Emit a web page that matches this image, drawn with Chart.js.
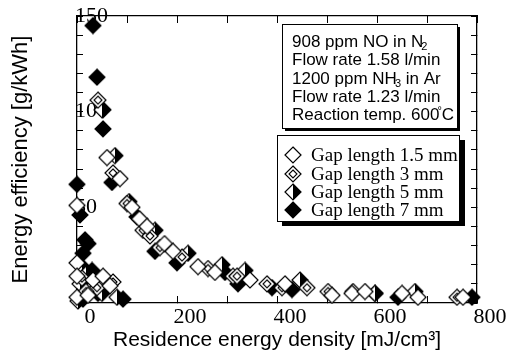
<!DOCTYPE html>
<html>
<head>
<meta charset="utf-8">
<script src="https://cdn.jsdelivr.net/npm/chart.js@4.4.1/dist/chart.umd.min.js"></script>
<style>
  html, body { margin: 0; padding: 0; background: #fff; }
  canvas { display: block; }
</style>
</head>
<body>
<canvas id="chart" width="507" height="362"></canvas>
<script>
// data: [residence energy density, energy efficiency]
const gap15 = [
    [0, 51], [0, 21], [0, 14], [32, 12], [52, 14], [66, 9], [0, 3], [22, 4],
    [60, 76], [86, 65], [110, 50], [125, 44], [140, 40], [175, 31], [192, 27], [242, 19],
    [276, 16], [346, 12], [416, 10], [510, 4], [550, 5], [576, 6], [650, 5], [682, 3], [772, 3]
];
const gap3 = [
    [10, 13], [40, 8], [72, 11], [18, 6],
    [42, 106], [72, 68], [100, 52], [132, 38], [146, 35], [166, 29], [210, 24], [262, 18],
    [312, 14], [320, 14], [380, 10], [410, 8], [460, 8], [502, 6], [552, 6], [760, 3]
];
const gap5 = [
    [10, 19], [6, 10], [26, 7], [50, 5], [80, 3], [2, 1], [18, 15],
    [50, 101], [76, 77], [104, 53], [156, 38], [222, 26], [290, 20], [336, 17], [446, 12],
    [596, 5], [676, 6]
];
const gap7 = [
    [0, 62], [6, 46], [16, 33], [22, 31], [12, 26], [30, 17], [42, 5], [92, 2], [12, 2],
    [32, 145], [40, 118], [52, 101], [52, 91], [70, 63], [120, 45], [156, 27], [200, 21],
    [296, 16], [322, 10], [390, 8], [430, 7], [596, 5], [642, 3], [790, 3]
];
const seriesNames = ["Gap length 1.5 mm", "Gap length 3 mm", "Gap length 5 mm", "Gap length 7 mm"];
const xLabelTicks = [0, 200, 400, 600, 800];
const yLabelTicks = [50, 100, 150];
// dy: shift for sub/superscript pieces
const noteLines = [
    [{ t: "908 ppm NO in N" }, { t: "2", small: true, dy: 5 }],
    [{ t: "Flow rate 1.58 l/min" }],
    [{ t: "1200 ppm NH" }, { t: "3", small: true, dy: 5 }, { t: " in Ar" }],
    [{ t: "Flow rate 1.23 l/min" }],
    [{ t: "Reaction temp. 600" }, { t: "°", small: true, dy: -4 }, { t: "C" }]
];

const SERIF = "'Liberation Serif', 'Times New Roman', serif";
const SANS = "'Liberation Sans', Arial, sans-serif";

// diamond markers: open, open with inner diamond, half filled, filled
function makeMarker(kind) {
    let c = document.createElement("canvas");
    c.width = 18;
    c.height = 18;
    let g = c.getContext("2d");
    let cx = 9, cy = 9, r = 8;
    function path(s) {
        g.beginPath();
        g.moveTo(cx, cy - s);
        g.lineTo(cx + s, cy);
        g.lineTo(cx, cy + s);
        g.lineTo(cx - s, cy);
        g.closePath();
    }
    path(r);
    g.fillStyle = kind == "filled" ? "#000" : "#fff";
    g.fill();
    if (kind == "half") {
        g.beginPath();
        g.moveTo(cx, cy - r);
        g.lineTo(cx + r, cy);
        g.lineTo(cx, cy + r);
        g.closePath();
        g.fillStyle = "#000";
        g.fill();
    }
    g.lineWidth = 1.2;
    g.strokeStyle = "#000";
    path(r);
    g.stroke();
    if (kind == "inner") {
        g.lineWidth = 1.1;
        path(4);
        g.stroke();
    }
    return c;
}

const markers = [makeMarker("open"), makeMarker("inner"), makeMarker("half"), makeMarker("filled")];
const seriesData = [gap15, gap3, gap5, gap7];

function toPoints(arr) {
    return arr.map(function (p) { return { x: p[0], y: p[1] }; });
}

var datasets = [];
for (var i = 0; i < seriesData.length; i++) {
    datasets.push({
        label: seriesNames[i],
        data: toPoints(seriesData[i]),
        pointStyle: markers[i],
        showLine: false,
        clip: false
    });
}

// text box + legend box, both with a hard black drop shadow
const boxesPlugin = {
    id: "boxes",
    afterDraw: function (chart) {
        let ctx = chart.ctx;
        ctx.save();
        // conditions box
        ctx.fillStyle = "#000";
        ctx.fillRect(285, 27, 175, 104);
        ctx.fillStyle = "#fff";
        ctx.fillRect(282, 24, 175, 104);
        ctx.strokeStyle = "#000";
        ctx.lineWidth = 1;
        ctx.strokeRect(282.5, 24.5, 175, 104);
        const lineY = [42, 60, 79, 97, 115];
        ctx.textBaseline = "middle";
        ctx.textAlign = "left";
        for (var i = 0; i < noteLines.length; i++) {
            var x = 292;
            for (var j = 0; j < noteLines[i].length; j++) {
                var seg = noteLines[i][j];
                ctx.font = (seg.small ? "11px " : "17px ") + SANS;
                ctx.fillStyle = "#000";
                var kern = seg.small ? 2 : 0;
                ctx.fillText(seg.t, x - kern, lineY[i] + (seg.dy || 0));
                x += ctx.measureText(seg.t).width - kern;
            }
        }
        // legend box
        ctx.fillStyle = "#000";
        ctx.fillRect(282, 140, 183, 86);
        ctx.fillStyle = "#fff";
        ctx.fillRect(277, 135, 182, 86);
        ctx.strokeRect(277.5, 135.5, 182, 86);
        const legY = [155, 174, 192, 210];
        ctx.font = "19px " + SERIF;
        for (var k = 0; k < chart.data.datasets.length; k++) {
            let ds = chart.data.datasets[k];
            ctx.drawImage(ds.pointStyle, 293 - 9, legY[k] - 9);
            ctx.fillStyle = "#000";
            ctx.fillText(ds.label, 311, legY[k] + 1);
        }
        ctx.restore();
    }
};

const tickFont = { family: SERIF, size: 22 };

new Chart(document.getElementById("chart"), {
    type: "scatter",
    data: { datasets: datasets },
    options: {
        responsive: false,
        animation: false,
        layout: { padding: 0 },
        plugins: { legend: { display: false }, tooltip: { enabled: false } },
        scales: {
            x: {
                type: "linear",
                position: "bottom",
                min: 0,
                max: 800,
                ticks: {
                    stepSize: 100,
                    autoSkip: false,
                    maxRotation: 0,
                    color: "#000",
                    font: tickFont,
                    padding: 8,
                    labelOffset: 13,
                    callback: function (v) { return xLabelTicks.includes(v) ? String(v) : ""; }
                },
                grid: { drawOnChartArea: false, drawTicks: true, tickLength: -7, color: "#000", lineWidth: 1 },
                border: { display: true, color: "#000", width: 1.3 },
                title: {
                    display: true,
                    text: "Residence energy density [mJ/cm³]",
                    color: "#000",
                    font: { family: SANS, size: 21 },
                    padding: { top: 0, bottom: 9 }
                },
                afterFit: function (s) { s.height = 59; s.paddingLeft = 0; s.paddingRight = 0; }
            },
            x2: {
                type: "linear",
                position: "top",
                min: 0,
                max: 800,
                ticks: { stepSize: 100, display: false },
                grid: { drawOnChartArea: false, drawTicks: true, tickLength: -7, color: "#000", lineWidth: 1 },
                border: { display: true, color: "#000", width: 1.3 },
                afterFit: function (s) { s.height = 16; s.paddingLeft = 0; s.paddingRight = 0; }
            },
            y: {
                type: "linear",
                position: "left",
                min: 0,
                max: 150,
                ticks: {
                    stepSize: 10,
                    autoSkip: false,
                    mirror: true,
                    padding: -2,
                    color: "#000",
                    font: tickFont,
                    callback: function (v) { return yLabelTicks.includes(v) ? String(v) : ""; }
                },
                grid: { drawOnChartArea: false, drawTicks: true, tickLength: -6, color: "#000", lineWidth: 1 },
                border: { display: true, color: "#000", width: 1.3 },
                title: {
                    display: true,
                    text: "Energy efficiency [g/kWh]",
                    color: "#000",
                    font: { family: SANS, size: 22 },
                    padding: { top: 8, bottom: 0 }
                },
                afterFit: function (s) { s.width = 77; s.paddingTop = 0; s.paddingBottom = 0; }
            },
            y2: {
                type: "linear",
                position: "right",
                min: 0,
                max: 150,
                ticks: { stepSize: 10, display: false },
                grid: { drawOnChartArea: false, drawTicks: true, tickLength: -6, color: "#000", lineWidth: 1 },
                border: { display: true, color: "#000", width: 1.3 },
                afterFit: function (s) { s.width = 30; s.paddingTop = 0; s.paddingBottom = 0; }
            }
        }
    },
    plugins: [boxesPlugin]
});
</script>
</body>
</html>
